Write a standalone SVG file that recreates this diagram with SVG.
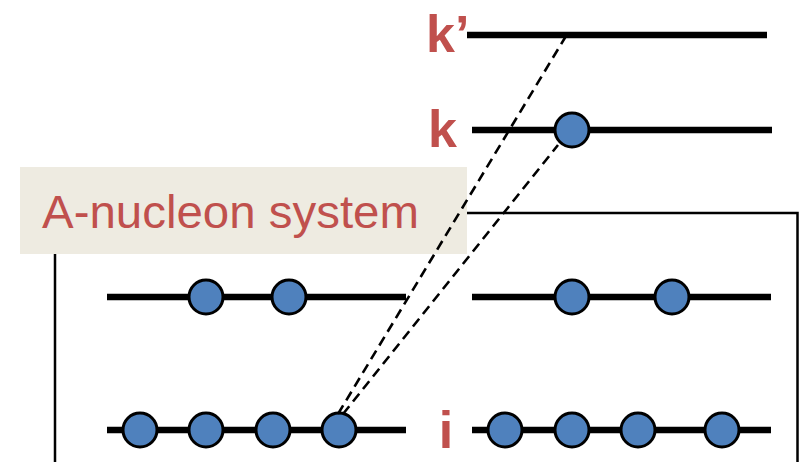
<svg xmlns="http://www.w3.org/2000/svg" width="809" height="462" viewBox="0 0 809 462">
<style>
.lvl{stroke:#000;stroke-width:6.5;fill:none}
.box{stroke:#000;stroke-width:2.5;fill:none}
.p{fill:#4F81BD;stroke:#000;stroke-width:3}
.lab{font-family:"Liberation Sans",Arial,sans-serif;font-weight:bold;font-size:52px;fill:#C0504D}
.dash{stroke:#000;stroke-width:2.6;stroke-dasharray:10 6;fill:none}
</style>
<rect width="809" height="462" fill="#fff"/>
<g id="system-box">
<path class="box" d="M55,462 V213 H797.5 V462"/>
<rect x="20" y="167" width="447" height="87" fill="#EEEBE1"/>
<text x="42" y="228" font-family="'Liberation Sans',Arial,sans-serif" font-size="47" fill="#C0504D" textLength="377" lengthAdjust="spacingAndGlyphs">A-nucleon system</text>
</g>
<g id="level-kprime">
<line class="lvl" x1="467" y1="35" x2="767" y2="35"/>
<text class="lab" x="426" y="52">k’</text>
</g>
<g id="level-k">
<line class="lvl" x1="472" y1="130" x2="772" y2="130"/>
<text class="lab" x="428" y="147">k</text>
<circle class="p" cx="572" cy="130" r="17"/>
</g>
<g id="level-upper">
<line class="lvl" x1="107" y1="297" x2="406" y2="297"/>
<line class="lvl" x1="472" y1="297" x2="771" y2="297"/>
<circle class="p" cx="206" cy="297" r="17"/>
<circle class="p" cx="289" cy="297" r="17"/>
<circle class="p" cx="572" cy="297" r="17"/>
<circle class="p" cx="672" cy="297" r="17"/>
</g>
<g id="level-i">
<line class="lvl" x1="107" y1="430" x2="406" y2="430"/>
<line class="lvl" x1="472" y1="430" x2="771" y2="430"/>
<text class="lab" x="446" y="448" text-anchor="middle" font-size="50">i</text>
<circle class="p" cx="140" cy="430" r="17"/>
<circle class="p" cx="206" cy="430" r="17"/>
<circle class="p" cx="273" cy="430" r="17"/>
<circle class="p" cx="339" cy="430" r="17"/>
<circle class="p" cx="505" cy="430" r="17"/>
<circle class="p" cx="572" cy="430" r="17"/>
<circle class="p" cx="638" cy="430" r="17"/>
<circle class="p" cx="722" cy="430" r="17"/>
</g>
<g id="connectors">
<line class="dash" x1="338" y1="414" x2="566" y2="36"/>
<line class="dash" x1="343" y1="414" x2="558" y2="145"/>
</g>
</svg>
